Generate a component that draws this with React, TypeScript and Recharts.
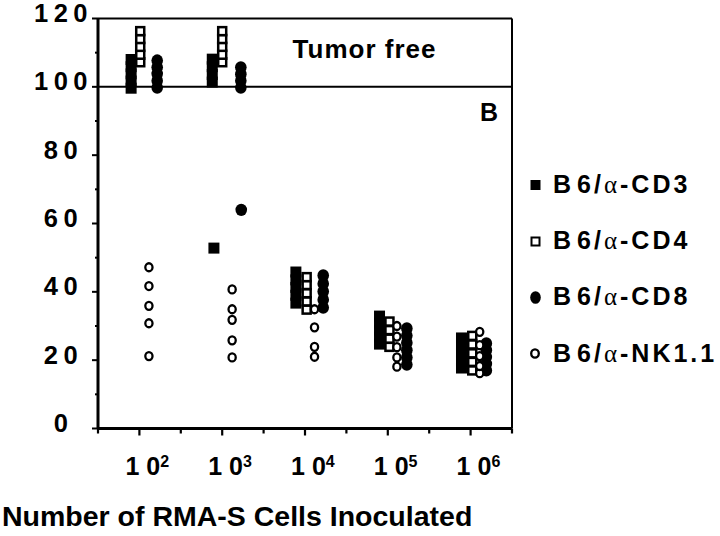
import React from "react";
import { ScatterChart, Scatter, XAxis, YAxis, ReferenceLine } from "recharts";

// x = log10(RMA-S cells inoculated), nudged per group as in the figure
const cd3 = [
  { x: 1.9, y: 99.6 }, { x: 1.9, y: 101.7 }, { x: 1.9, y: 103.8 }, { x: 1.9, y: 105.9 }, { x: 1.9, y: 108.0 },
  { x: 2.88, y: 101.4 }, { x: 2.88, y: 103.6 }, { x: 2.88, y: 105.9 }, { x: 2.88, y: 108.1 },
  { x: 2.9, y: 52.8 },
  { x: 3.89, y: 36.7 }, { x: 3.89, y: 39.0 }, { x: 3.89, y: 41.3 }, { x: 3.89, y: 43.5 }, { x: 3.89, y: 45.8 },
  { x: 4.9, y: 24.7 }, { x: 4.9, y: 26.8 }, { x: 4.9, y: 28.8 }, { x: 4.9, y: 30.9 }, { x: 4.9, y: 32.9 },
  { x: 5.89, y: 17.7 }, { x: 5.89, y: 19.9 }, { x: 5.89, y: 22.1 }, { x: 5.89, y: 24.3 }, { x: 5.89, y: 26.5 },
];

const cd4 = [
  { x: 2.01, y: 107.2 }, { x: 2.01, y: 109.4 }, { x: 2.01, y: 111.7 }, { x: 2.01, y: 114.0 }, { x: 2.01, y: 116.3 },
  { x: 3.0, y: 107.2 }, { x: 3.0, y: 109.4 }, { x: 3.0, y: 111.7 }, { x: 3.0, y: 114.0 }, { x: 3.0, y: 116.3 },
  { x: 4.02, y: 34.8 }, { x: 4.02, y: 37.2 }, { x: 4.02, y: 39.6 }, { x: 4.02, y: 42.0 }, { x: 4.02, y: 44.3 },
  { x: 5.02, y: 23.9 }, { x: 5.02, y: 26.3 }, { x: 5.02, y: 28.8 }, { x: 5.02, y: 31.3 },
  { x: 6.02, y: 17.0 }, { x: 6.02, y: 19.5 }, { x: 6.02, y: 22.0 }, { x: 6.02, y: 24.6 }, { x: 6.02, y: 27.1 },
];

const cd8 = [
  { x: 2.215, y: 99.8 }, { x: 2.215, y: 101.8 }, { x: 2.215, y: 103.8 }, { x: 2.215, y: 105.7 }, { x: 2.215, y: 107.7 },
  { x: 3.225, y: 99.8 }, { x: 3.225, y: 101.8 }, { x: 3.225, y: 103.7 }, { x: 3.225, y: 105.7 },
  { x: 3.23, y: 64.0 },
  { x: 4.22, y: 35.4 }, { x: 4.22, y: 37.7 }, { x: 4.22, y: 40.1 }, { x: 4.22, y: 42.4 }, { x: 4.22, y: 44.8 },
  { x: 5.23, y: 18.7 }, { x: 5.23, y: 20.8 }, { x: 5.23, y: 22.9 }, { x: 5.23, y: 25.1 }, { x: 5.23, y: 27.2 }, { x: 5.23, y: 29.3 },
  { x: 6.19, y: 17.0 }, { x: 6.19, y: 18.9 }, { x: 6.19, y: 20.9 }, { x: 6.19, y: 22.9 }, { x: 6.19, y: 24.9 },
];

const nk11 = [
  { x: 2.115, y: 21.2 }, { x: 2.115, y: 30.8 }, { x: 2.115, y: 35.9 }, { x: 2.115, y: 41.7 }, { x: 2.115, y: 47.2 },
  { x: 3.12, y: 20.8 }, { x: 3.12, y: 25.8 }, { x: 3.12, y: 31.8 }, { x: 3.12, y: 34.9 }, { x: 3.12, y: 40.7 },
  { x: 4.115, y: 21.0 }, { x: 4.115, y: 23.9 }, { x: 4.115, y: 29.6 }, { x: 4.115, y: 34.9 },
  { x: 5.11, y: 18.1 }, { x: 5.11, y: 20.8 }, { x: 5.11, y: 23.8 }, { x: 5.11, y: 26.9 }, { x: 5.11, y: 30.0 },
  { x: 6.11, y: 16.2 }, { x: 6.11, y: 18.3 }, { x: 6.11, y: 21.2 }, { x: 6.11, y: 24.4 }, { x: 6.11, y: 28.3 },
];

const xTicks = [1.5, 2, 2.5, 3, 3.5, 4, 4.5, 5, 5.5, 6, 6.5];
const yTicks = [0, 10, 20, 30, 40, 50, 60, 70, 80, 90, 100, 110, 120];
const legendNames = ["CD3", "CD4", "CD8", "NK1.1"];

const FONT = "'Liberation Sans', Arial, Helvetica, sans-serif";

const FilledSquare = (p: any) => (
  <rect x={p.cx - 5.5} y={p.cy - 5.5} width={11} height={11} fill="#000" />
);
const OpenSquare = (p: any) => (
  <rect x={p.cx - 4} y={p.cy - 4} width={8} height={8} fill="#fff" stroke="#000" strokeWidth={2.5} />
);
const FilledCircle = (p: any) => <ellipse cx={p.cx} cy={p.cy} rx={5.8} ry={6.2} fill="#000" />;
const OpenCircle = (p: any) => (
  <ellipse cx={p.cx} cy={p.cy} rx={3.6} ry={4} fill="#fff" stroke="#000" strokeWidth={2.3} />
);

const YTick = ({ x, y, payload }: any) => {
  const major = payload.value % 20 === 0;
  return (
    <g>
      <line x1={x} x2={x - (major ? 6 : 3)} y1={y} y2={y} stroke="#000" strokeWidth={2} />
      {major && (
        <text
          x={63.5}
          y={y + 3.5}
          textAnchor="middle"
          fontFamily={FONT}
          fontWeight="bold"
          fontSize={25.5}
          letterSpacing={5.5}
          fill="#000"
        >
          {payload.value}
        </text>
      )}
    </g>
  );
};

const XTick = ({ x, y, payload }: any) => {
  const major = Number.isInteger(payload.value);
  return (
    <g>
      <line x1={x} x2={x} y1={y} y2={y + (major ? 7 : 5)} stroke="#000" strokeWidth={2.2} />
      {major && (
        <text x={x - 14} y={y + 46.5} fontFamily={FONT} fontWeight="bold" fontSize={25} fill="#000">
          <tspan>1</tspan>
          <tspan dx={7}>0</tspan>
          <tspan dx={0} dy={-8} fontSize={16}>
            {payload.value}
          </tspan>
        </text>
      )}
    </g>
  );
};

// legend sits outside the plot, to the right of the frame
const LegendBox = () => {
  const markers = [
    <rect key="a" x={10.5} y={20} width={10} height={10} fill="#000" />,
    <rect key="b" x={11.5} y={77.5} width={8} height={8} fill="#fff" stroke="#000" strokeWidth={2} />,
    <ellipse key="c" cx={15.5} cy={137.5} rx={5.3} ry={6.3} fill="#000" />,
    <ellipse key="d" cx={15} cy={193.5} rx={3.8} ry={4.2} fill="#fff" stroke="#000" strokeWidth={2.3} />,
  ];
  return (
    <svg
      width={200}
      height={220}
      style={{ position: "absolute", left: 520, top: 160, display: "block", overflow: "visible" }}
    >
      {legendNames.map((name, i) => (
        <g key={name}>
          {markers[i]}
          <text
            x={33}
            y={33 + i * 56.2}
            fontFamily={FONT}
            fontWeight="bold"
            fontSize={25}
            letterSpacing={3}
            fill="#000"
          >
            <tspan>B</tspan>
            <tspan dx={3}>6/</tspan>
            <tspan fontFamily="'Liberation Serif', 'DejaVu Serif', serif" fontWeight="normal">
              α
            </tspan>
            <tspan>-{name}</tspan>
          </text>
        </g>
      ))}
    </svg>
  );
};

const frameLabels = ({ viewBox }: any) => (
  <g fontFamily={FONT} fontWeight="bold" fill="#000">
    <text x={viewBox.x + 266.5} y={viewBox.y - 29} textAnchor="middle" fontSize={26} letterSpacing={1}>
      Tumor free
    </text>
    <text x={viewBox.x + 391} y={viewBox.y + 34.5} textAnchor="middle" fontSize={25}>
      B
    </text>
  </g>
);

const titleLabel = ({ viewBox }: any) => (
  <text x={viewBox.x - 96} y={viewBox.y + 97.5} fontFamily={FONT} fontWeight="bold" fontSize={28.5} fill="#000">
    Number of RMA-S Cells Inoculated
  </text>
);

export default function App() {
  return (
    <div style={{ position: "absolute", left: 0, top: 0, width: 720, height: 536, background: "#fff" }}>
      <ScatterChart width={720} height={536} margin={{ top: 18.5, right: 208, bottom: 0, left: 0 }}>
        <XAxis
          type="number"
          dataKey="x"
          domain={[1.5, 6.5]}
          ticks={xTicks}
          interval={0}
          height={107.5}
          tickSize={0}
          tickMargin={0}
          tickLine={false}
          tick={<XTick />}
          axisLine={{ stroke: "#000", strokeWidth: 3 }}
          allowDataOverflow
          label={titleLabel}
        />
        <YAxis
          type="number"
          dataKey="y"
          domain={[0, 120]}
          ticks={yTicks}
          interval={0}
          width={98}
          tickSize={0}
          tickMargin={0}
          tickLine={false}
          tick={<YTick />}
          axisLine={{ stroke: "#000", strokeWidth: 3 }}
          allowDataOverflow
        />
        <ReferenceLine y={120} stroke="#000" strokeWidth={2} />
        <ReferenceLine x={6.5} stroke="#000" strokeWidth={2} />
        <ReferenceLine y={100} stroke="#000" strokeWidth={2} label={frameLabels} />
        <Scatter name="B6/α-CD3" data={cd3} shape={FilledSquare} isAnimationActive={false} />
        <Scatter name="B6/α-CD8" data={cd8} shape={FilledCircle} isAnimationActive={false} />
        <Scatter name="B6/α-CD4" data={cd4} shape={OpenSquare} isAnimationActive={false} />
        <Scatter name="B6/α-NK1.1" data={nk11} shape={OpenCircle} isAnimationActive={false} />
      </ScatterChart>
      <LegendBox />
    </div>
  );
}
